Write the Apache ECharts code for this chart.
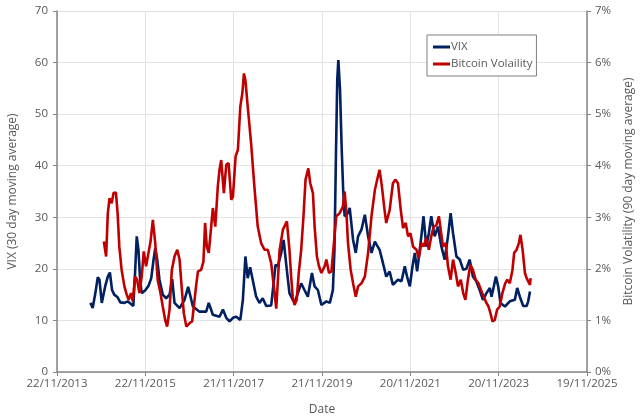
<!DOCTYPE html>
<html>
<head>
<meta charset="utf-8">
<script src="https://cdn.jsdelivr.net/npm/echarts@6/dist/echarts.min.js"></script>
<style>
  html, body { margin: 0; padding: 0; background: #fff; }
  #chart { width: 640px; height: 418px; }
</style>
</head>
<body>
<div id="chart"></div>
<script>
  // VIX, 30 day moving average
  var vixDates = [
    '2014-08-25', '2014-09-13', '2014-10-05', '2014-10-25', '2014-11-08', '2014-11-27', '2014-12-25',
    '2015-01-16', '2015-02-02', '2015-02-20', '2015-03-10', '2015-04-07', '2015-04-29', '2015-06-02',
    '2015-06-29', '2015-07-27', '2015-08-15', '2015-08-29', '2015-09-12', '2015-09-26', '2015-10-10',
    '2015-10-23', '2015-11-20', '2015-12-18', '2016-01-10', '2016-01-29', '2016-02-12', '2016-02-28',
    '2016-03-18', '2016-04-14', '2016-05-12', '2016-06-09', '2016-07-01', '2016-07-20', '2016-08-31',
    '2016-10-11', '2016-11-10', '2016-12-19', '2017-02-12', '2017-04-08', '2017-04-29', '2017-06-02',
    '2017-07-27', '2017-08-24', '2017-09-21', '2017-10-18', '2017-11-15', '2017-12-13', '2018-01-15',
    '2018-02-05', '2018-02-26', '2018-03-17', '2018-04-06', '2018-04-27', '2018-05-26', '2018-06-22',
    '2018-07-19', '2018-08-17', '2018-09-27', '2018-10-17', '2018-11-02', '2018-11-21', '2018-12-19',
    '2019-01-08', '2019-01-31', '2019-02-25', '2019-03-24', '2019-04-10', '2019-04-26', '2019-06-02',
    '2019-06-29', '2019-07-27', '2019-08-30', '2019-09-21', '2019-10-18', '2019-11-16', '2019-12-27',
    '2020-01-25', '2020-02-19', '2020-03-03', '2020-03-16', '2020-03-26', '2020-04-04', '2020-04-18',
    '2020-05-02', '2020-05-14', '2020-05-26', '2020-06-23', '2020-07-07', '2020-08-04', '2020-08-26',
    '2020-09-14', '2020-10-12', '2020-11-09', '2020-12-06', '2021-01-03', '2021-01-31', '2021-03-11',
    '2021-04-08', '2021-05-05', '2021-06-02', '2021-06-29', '2021-08-10', '2021-09-08', '2021-10-05',
    '2021-10-24', '2021-11-16', '2021-12-08', '2021-12-27', '2022-01-15', '2022-02-06', '2022-02-19',
    '2022-03-09', '2022-04-01', '2022-04-22', '2022-05-12', '2022-06-09', '2022-07-06', '2022-08-04',
    '2022-08-31', '2022-09-27', '2022-10-19', '2022-11-08', '2022-12-06', '2023-01-03', '2023-01-31',
    '2023-02-26', '2023-03-25', '2023-04-21', '2023-05-19', '2023-06-16', '2023-07-13', '2023-08-11',
    '2023-09-08', '2023-09-22', '2023-10-11', '2023-10-28', '2023-11-16', '2023-12-05', '2024-01-11',
    '2024-02-20', '2024-04-02', '2024-04-21', '2024-05-13', '2024-06-10', '2024-07-08', '2024-07-21',
    '2024-08-05'
  ];
  var vixValues = [
    13.4, 12.4, 15.3, 18.4, 17.9, 13.4, 16.6,
    18.5, 19.3, 15.9, 15.0, 14.5, 13.5, 13.4,
    13.7, 13.2, 12.8, 19.2, 26.3, 23.7, 17.9,
    15.3, 15.8, 16.7, 18.2, 21.8, 24.0, 21.8,
    17.9, 15.0, 14.3, 15.0, 18.0, 13.4, 12.4,
    14.0, 16.5, 12.7, 11.7, 11.7, 13.4, 11.1,
    10.7, 12.1, 10.5, 9.8, 10.5, 10.7, 10.1,
    14.0, 22.4, 18.2, 20.3, 17.9, 14.6, 13.4,
    14.3, 12.8, 12.9, 17.2, 20.8, 20.5, 23.1,
    25.6, 20.5, 15.3, 14.0, 13.4, 14.6, 17.2,
    15.9, 14.6, 19.2, 16.6, 15.9, 13.0, 13.7,
    13.4, 15.9, 23.7, 43.1, 56.6, 60.5, 54.7,
    43.1, 35.3, 30.2, 30.8, 31.8, 25.6, 23.1,
    26.3, 27.6, 30.5, 26.3, 23.1, 25.3, 23.7,
    21.1, 18.5, 19.5, 16.9, 17.9, 17.6, 20.5,
    18.5, 16.6, 20.5, 23.1, 19.5, 23.7, 26.3,
    30.2, 24.3, 26.9, 30.2, 26.3, 28.2, 24.3,
    21.8, 26.3, 30.8, 26.9, 22.4, 21.8, 19.8,
    20.0, 21.8, 18.5, 17.6, 15.9, 14.0, 15.3,
    16.3, 14.6, 16.6, 18.5, 16.6, 13.4, 12.7,
    13.7, 14.0, 16.3, 14.6, 12.8, 12.8, 13.7,
    15.6
  ];

  // Bitcoin volatility, 90 day moving average (%)
  var btcDates = [
    '2014-12-14', '2015-01-02', '2015-01-16', '2015-01-30', '2015-02-17', '2015-03-04', '2015-03-24',
    '2015-04-07', '2015-04-21', '2015-05-10', '2015-06-02', '2015-06-21', '2015-07-07', '2015-07-27',
    '2015-08-10', '2015-08-29', '2015-09-15', '2015-10-04', '2015-10-23', '2015-11-09', '2015-11-28',
    '2015-12-18', '2016-01-04', '2016-01-23', '2016-02-12', '2016-03-03', '2016-03-26', '2016-04-14',
    '2016-05-04', '2016-05-20', '2016-06-09', '2016-06-28', '2016-07-20', '2016-08-12', '2016-08-31',
    '2016-09-19', '2016-10-05', '2016-10-26', '2016-11-22', '2016-12-13', '2016-12-25', '2017-01-17',
    '2017-01-30', '2017-02-25', '2017-03-16', '2017-03-30', '2017-04-13', '2017-04-29', '2017-05-13',
    '2017-06-02', '2017-06-22', '2017-07-13', '2017-07-27', '2017-08-10', '2017-09-01', '2017-09-21',
    '2017-10-10', '2017-11-01', '2017-11-15', '2017-12-07', '2017-12-26', '2018-01-15', '2018-02-01',
    '2018-02-14', '2018-02-26', '2018-03-17', '2018-04-14', '2018-05-11', '2018-06-08', '2018-07-06',
    '2018-08-03', '2018-08-30', '2018-09-27', '2018-10-25', '2018-11-08', '2018-12-05', '2019-01-02',
    '2019-02-04', '2019-02-25', '2019-03-11', '2019-03-24', '2019-04-08', '2019-04-26', '2019-05-13',
    '2019-06-02', '2019-06-21', '2019-07-08', '2019-07-31', '2019-08-16', '2019-09-07', '2019-09-21',
    '2019-10-10', '2019-10-27', '2019-11-16', '2019-12-13', '2019-12-27', '2020-01-18', '2020-02-07',
    '2020-02-19', '2020-03-18', '2020-04-15', '2020-05-12', '2020-05-26', '2020-06-10', '2020-06-23',
    '2020-07-15', '2020-08-04', '2020-08-26', '2020-09-14', '2020-10-12', '2020-11-09', '2020-12-06',
    '2021-01-03', '2021-01-31', '2021-02-25', '2021-03-11', '2021-03-30', '2021-04-21', '2021-05-05',
    '2021-06-02', '2021-06-29', '2021-07-19', '2021-08-10', '2021-09-02', '2021-09-21', '2021-10-13',
    '2021-11-01', '2021-11-21', '2021-12-13', '2022-01-10', '2022-01-29', '2022-02-19', '2022-03-09',
    '2022-04-01', '2022-04-22', '2022-05-12', '2022-06-01', '2022-06-23', '2022-07-14', '2022-07-29',
    '2022-08-17', '2022-09-09', '2022-09-27', '2022-10-19', '2022-11-08', '2022-11-30', '2022-12-19',
    '2023-01-11', '2023-01-31', '2023-02-18', '2023-03-11', '2023-03-31', '2023-04-21', '2023-05-14',
    '2023-06-06', '2023-06-27', '2023-07-19', '2023-08-11', '2023-08-28', '2023-09-13', '2023-09-30',
    '2023-10-19', '2023-11-07', '2023-11-29', '2023-12-21', '2024-01-13', '2024-01-30', '2024-02-20',
    '2024-03-13', '2024-03-27', '2024-04-16', '2024-05-05', '2024-05-18', '2024-06-05', '2024-06-24',
    '2024-07-08', '2024-07-21', '2024-08-05', '2024-08-10'
  ];
  var btcValues = [
    2.53, 2.24, 3.08, 3.37, 3.27, 3.47, 3.48,
    3.08, 2.43, 1.98, 1.66, 1.50, 1.40, 1.53,
    1.37, 1.85, 1.79, 1.53, 1.85, 2.34, 2.05,
    2.31, 2.53, 2.95, 2.50, 1.79, 1.53, 1.27,
    1.01, 0.88, 1.21, 1.98, 2.24, 2.37, 2.18,
    1.59, 1.14, 0.88, 0.95, 0.98, 1.01, 1.72,
    1.95, 1.98, 2.14, 2.89, 2.43, 2.31, 2.66,
    3.18, 2.82, 3.60, 3.92, 4.11, 3.47, 4.02,
    4.05, 3.34, 3.40, 4.18, 4.31, 5.15, 5.41,
    5.79, 5.66, 5.15, 4.44, 3.60, 2.82, 2.50,
    2.37, 2.37, 2.11, 1.53, 1.23, 2.35, 2.76,
    2.92, 2.37, 1.85, 1.46, 1.30, 1.40, 1.92,
    2.37, 3.02, 3.73, 3.95, 3.66, 3.47, 2.82,
    2.24, 2.05, 1.92, 2.05, 2.18, 1.92, 1.95,
    1.92, 3.02, 3.08, 3.21, 3.50, 3.08, 2.50,
    1.98, 1.72, 1.46, 1.66, 1.72, 1.85, 2.31,
    3.02, 3.53, 3.79, 3.92, 3.60, 3.14, 2.89,
    3.14, 3.66, 3.73, 3.66, 3.14, 2.79, 2.89,
    2.63, 2.69, 2.43, 2.37, 2.21, 2.50, 2.43,
    2.60, 2.37, 2.63, 2.82, 2.85, 3.02, 2.76,
    2.43, 2.50, 2.05, 1.79, 2.18, 1.92, 1.66,
    1.79, 1.53, 1.40, 1.79, 2.08, 1.98, 1.79,
    1.72, 1.59, 1.46, 1.34, 1.27, 1.14, 0.98,
    1.01, 1.21, 1.27, 1.53, 1.72, 1.79, 1.72,
    1.98, 2.31, 2.37, 2.50, 2.66, 2.37, 1.92,
    1.82, 1.79, 1.69, 1.82
  ];

  // x axis counts days from the first tick, 22/11/2013, ticks every 730 days
  var baseDay = Date.UTC(2013, 10, 22);
  var dayMs = 86400000;

  function toDay(s) {
    var p = s.split('-');
    return Math.round((Date.UTC(+p[0], +p[1] - 1, +p[2]) - baseDay) / dayMs);
  }
  function pad(n) { return n < 10 ? '0' + n : '' + n; }
  function dayLabel(v) {
    var d = new Date(baseDay + v * dayMs);
    return pad(d.getUTCDate()) + '/' + pad(d.getUTCMonth() + 1) + '/' + d.getUTCFullYear();
  }

  var vixData = vixDates.map(function (d, i) { return [toDay(d), vixValues[i]]; });
  var btcData = btcDates.map(function (d, i) { return [toDay(d), btcValues[i]]; });

  var textColor = '#595959';
  var axisColor = '#868686';
  var gridColor = '#e3e3e3';
  var font = 'Open Sans';

  var myChart = echarts.init(document.getElementById('chart'));
  myChart.setOption({
    animation: false,
    textStyle: { fontFamily: font },
    grid: {
      left: 57,
      right: 53,
      top: 11,
      bottom: 46,
      outerBoundsMode: 'none'
    },
    legend: {
      orient: 'vertical',
      left: 427,
      top: 35,
      padding: [6, 4, 6, 6],
      itemGap: 5,
      itemWidth: 17,
      itemHeight: 3,
      borderColor: '#7f7f7f',
      borderWidth: 1,
      backgroundColor: '#fff',
      textStyle: { color: textColor, fontSize: 11.5, fontFamily: font, padding: [0, 0, 0, -4] },
      data: [
        { name: 'VIX', icon: 'rect' },
        { name: 'Bitcoin Volaility', icon: 'rect' }
      ]
    },
    xAxis: {
      type: 'value',
      min: 0,
      max: 4380,
      interval: 730,
      name: 'Date',
      nameLocation: 'middle',
      nameGap: 32,
      nameTextStyle: { color: textColor, fontSize: 12 },
      axisLine: { lineStyle: { color: axisColor, width: 1.5 } },
      axisTick: { show: true, length: 4, lineStyle: { color: axisColor } },
      axisLabel: { color: textColor, fontSize: 11.5, margin: 6, formatter: dayLabel },
      splitLine: { show: true, lineStyle: { color: gridColor } }
    },
    yAxis: [
      {
        type: 'value',
        min: 0,
        max: 70,
        interval: 10,
        name: 'VIX (30 day moving average)',
        nameLocation: 'middle',
        nameGap: 38,
        nameTextStyle: { color: textColor, fontSize: 12 },
        axisLine: { show: true, lineStyle: { color: axisColor, width: 1.5 } },
        axisTick: { show: true, length: 4, lineStyle: { color: axisColor } },
        axisLabel: { color: textColor, fontSize: 11.5, margin: 9 },
        splitLine: { show: true, lineStyle: { color: gridColor } }
      },
      {
        type: 'value',
        min: 0,
        max: 7,
        interval: 1,
        position: 'right',
        name: 'Bitcoin Volatility (90 day moving average)',
        nameLocation: 'middle',
        nameGap: 36,
        nameRotate: 90,
        nameTextStyle: { color: textColor, fontSize: 12 },
        axisLine: { show: true, lineStyle: { color: axisColor, width: 1.5 } },
        axisTick: { show: true, length: 4, lineStyle: { color: axisColor } },
        axisLabel: { color: textColor, fontSize: 11.5, margin: 8, formatter: '{value}%' },
        splitLine: { show: false }
      }
    ],
    series: [
      {
        name: 'VIX',
        type: 'line',
        yAxisIndex: 0,
        data: vixData,
        showSymbol: false,
        color: '#002060',
        lineStyle: { width: 2.6, color: '#002060' },
        z: 3
      },
      {
        name: 'Bitcoin Volaility',
        type: 'line',
        yAxisIndex: 1,
        data: btcData,
        showSymbol: false,
        color: '#c00000',
        lineStyle: { width: 2.6, color: '#c00000' },
        z: 4
      }
    ]
  });
</script>
</body>
</html>
